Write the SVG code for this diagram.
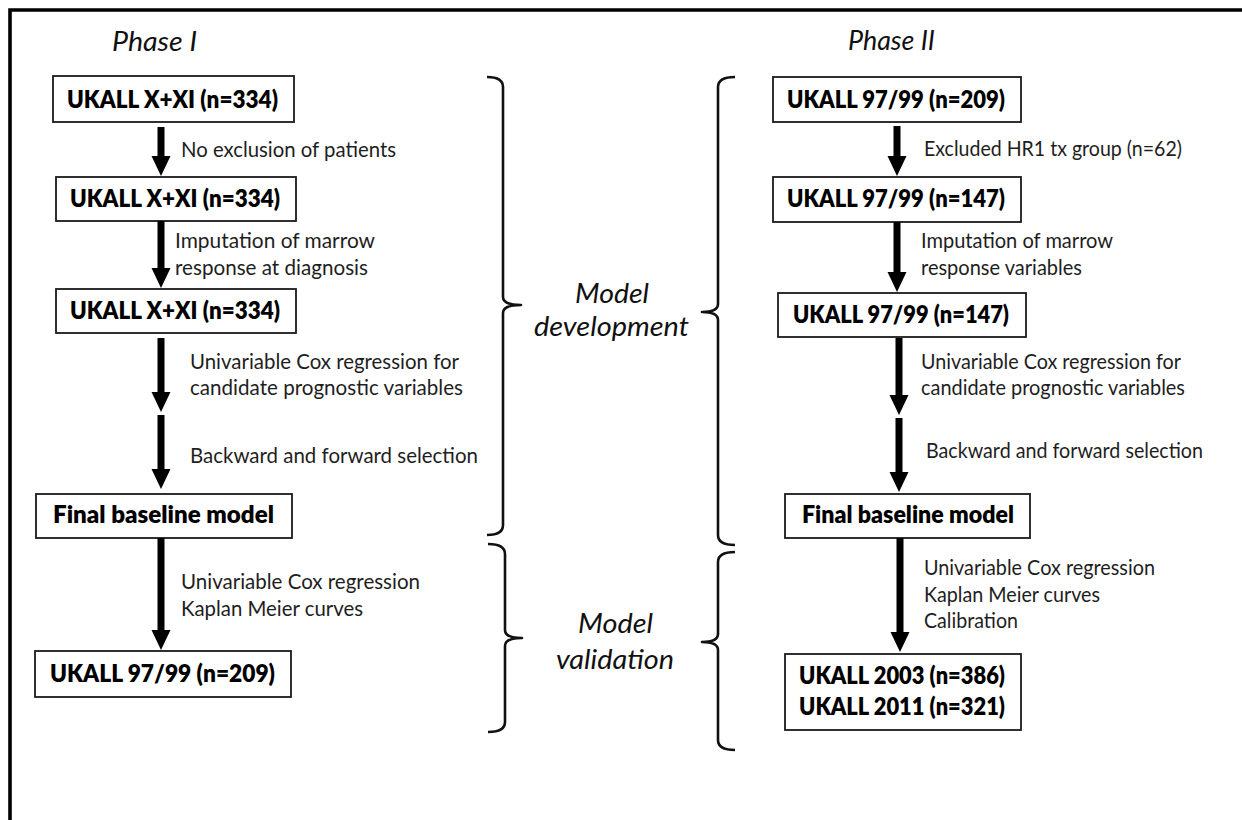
<svg xmlns="http://www.w3.org/2000/svg" width="1242" height="820" viewBox="0 0 1242 820">
  <defs>
    <style>
      .frame { fill: none; stroke: #000; stroke-width: 3.6; }
      .box rect { fill: #fff; stroke: #1a1a1a; stroke-width: 1.8; }
      .box text { font-family: Lato, "Open Sans", sans-serif; font-weight: 800; font-size: 25px; fill: #000; }
      .lbl { font-family: Lato, "Open Sans", sans-serif; font-size: 20.5px; fill: #1e1e1e; }
      .head { font-family: Lato, "Open Sans", sans-serif; font-style: italic; font-size: 27.5px; fill: #111; }
      .arrow { stroke: #000; stroke-width: 7; fill: none; marker-end: url(#ah); }
      .brace { fill: none; stroke: #111; stroke-width: 2.6; stroke-linejoin: round; }
    </style>
    <marker id="ah" markerUnits="userSpaceOnUse" markerWidth="21" markerHeight="20" refX="2" refY="9.5" orient="auto" overflow="visible">
      <path d="M0,0 L20,9.5 L0,19 Z" fill="#000"/>
    </marker>
  </defs>

  <rect width="1242" height="820" fill="#fff"/>
  <!-- outer frame: top and left edges only -->
  <path class="frame" d="M10,822 L10,10 L1244,10"/>

  <!-- column headings -->
  <text class="head" x="112" y="51" textLength="85" lengthAdjust="spacingAndGlyphs">Phase I</text>
  <text class="head" x="848" y="50" textLength="87" lengthAdjust="spacingAndGlyphs">Phase II</text>

  <!-- Phase I nodes -->
  <g id="p1-start" class="box">
    <rect x="53" y="76" width="241" height="46"/>
    <text x="67" y="108" textLength="211" lengthAdjust="spacingAndGlyphs">UKALL X+XI (n=334)</text>
  </g>
  <g id="p1-all" class="box">
    <rect x="56" y="177" width="240" height="44"/>
    <text x="70" y="207" textLength="210" lengthAdjust="spacingAndGlyphs">UKALL X+XI (n=334)</text>
  </g>
  <g id="p1-imputed" class="box">
    <rect x="56" y="289" width="240" height="44"/>
    <text x="70" y="319" textLength="210" lengthAdjust="spacingAndGlyphs">UKALL X+XI (n=334)</text>
  </g>
  <g id="p1-model" class="box">
    <rect x="36" y="494" width="256" height="44"/>
    <text x="53" y="523" textLength="221" lengthAdjust="spacingAndGlyphs">Final baseline model</text>
  </g>
  <g id="p1-validation" class="box">
    <rect x="35" y="651" width="256" height="46"/>
    <text x="50" y="682" textLength="225" lengthAdjust="spacingAndGlyphs">UKALL 97/99 (n=209)</text>
  </g>

  <!-- Phase II nodes -->
  <g id="p2-start" class="box">
    <rect x="773" y="77" width="248" height="45"/>
    <text x="787" y="108" textLength="218" lengthAdjust="spacingAndGlyphs">UKALL 97/99 (n=209)</text>
  </g>
  <g id="p2-excluded" class="box">
    <rect x="773" y="177" width="248" height="45"/>
    <text x="787" y="207" textLength="218" lengthAdjust="spacingAndGlyphs">UKALL 97/99 (n=147)</text>
  </g>
  <g id="p2-imputed" class="box">
    <rect x="778" y="293" width="248" height="44"/>
    <text x="793" y="323" textLength="216" lengthAdjust="spacingAndGlyphs">UKALL 97/99 (n=147)</text>
  </g>
  <g id="p2-model" class="box">
    <rect x="785" y="494" width="245" height="44"/>
    <text x="802" y="523" textLength="212" lengthAdjust="spacingAndGlyphs">Final baseline model</text>
  </g>
  <g id="p2-validation" class="box">
    <rect x="785" y="654" width="236" height="76"/>
    <text x="799" y="684" textLength="206" lengthAdjust="spacingAndGlyphs">UKALL 2003 (n=386)</text>
    <text x="799" y="715" textLength="206" lengthAdjust="spacingAndGlyphs">UKALL 2011 (n=321)</text>
  </g>

  <!-- connectors -->
  <g id="connectors">
    <line class="arrow" x1="161" y1="127" x2="161" y2="158"/>
    <line class="arrow" x1="161" y1="221" x2="161" y2="270"/>
    <line class="arrow" x1="161" y1="338" x2="161" y2="394"/>
    <line class="arrow" x1="161" y1="415" x2="161" y2="471"/>
    <line class="arrow" x1="161" y1="538" x2="161" y2="632"/>

    <line class="arrow" x1="897" y1="126" x2="897" y2="158"/>
    <line class="arrow" x1="897" y1="222" x2="897" y2="274"/>
    <line class="arrow" x1="899" y1="338" x2="899" y2="397"/>
    <line class="arrow" x1="899" y1="418" x2="899" y2="474"/>
    <line class="arrow" x1="900" y1="538" x2="900" y2="634"/>
  </g>

  <!-- connector labels -->
  <g id="labels" class="lbl">
    <text x="181" y="157" textLength="215" lengthAdjust="spacingAndGlyphs">No exclusion of patients</text>
    <text x="175" y="248" textLength="200" lengthAdjust="spacingAndGlyphs">Imputation of marrow</text>
    <text x="175" y="275" textLength="193" lengthAdjust="spacingAndGlyphs">response at diagnosis</text>
    <text x="190" y="369" textLength="269" lengthAdjust="spacingAndGlyphs">Univariable Cox regression for</text>
    <text x="190" y="395" textLength="273" lengthAdjust="spacingAndGlyphs">candidate prognostic variables</text>
    <text x="190" y="463" textLength="288" lengthAdjust="spacingAndGlyphs">Backward and forward selection</text>
    <text x="181" y="589" textLength="239" lengthAdjust="spacingAndGlyphs">Univariable Cox regression</text>
    <text x="181" y="616" textLength="182" lengthAdjust="spacingAndGlyphs">Kaplan Meier curves</text>

    <text x="924" y="156" textLength="258" lengthAdjust="spacingAndGlyphs">Excluded HR1 tx group (n=62)</text>
    <text x="921" y="248" textLength="192" lengthAdjust="spacingAndGlyphs">Imputation of marrow</text>
    <text x="921" y="275" textLength="161" lengthAdjust="spacingAndGlyphs">response variables</text>
    <text x="921" y="369" textLength="260" lengthAdjust="spacingAndGlyphs">Univariable Cox regression for</text>
    <text x="921" y="395" textLength="264" lengthAdjust="spacingAndGlyphs">candidate prognostic variables</text>
    <text x="926" y="458" textLength="277" lengthAdjust="spacingAndGlyphs">Backward and forward selection</text>
    <text x="924" y="575" textLength="231" lengthAdjust="spacingAndGlyphs">Univariable Cox regression</text>
    <text x="924" y="602" textLength="176" lengthAdjust="spacingAndGlyphs">Kaplan Meier curves</text>
    <text x="924" y="628" textLength="94" lengthAdjust="spacingAndGlyphs">Calibration</text>
  </g>

  <!-- stage braces and their captions -->
  <g id="stage-development">
    <path class="brace" d="M487,77 Q503,77 503,87 L503,297 Q503,305 521,305 Q503,305 503,313 L503,525 Q503,535 487,535"/>
    <path class="brace" d="M735,77 Q718,77 718,87 L718,304 Q718,312 702,312 Q718,312 718,320 L718,535 Q718,545 735,545"/>
    <text class="head" x="575" y="303" textLength="74" lengthAdjust="spacingAndGlyphs">Model</text>
    <text class="head" x="534" y="336" textLength="155" lengthAdjust="spacingAndGlyphs">development</text>
  </g>
  <g id="stage-validation">
    <path class="brace" d="M488,544 Q505,544 505,554 L505,630 Q505,638 522,638 Q505,638 505,646 L505,722 Q505,732 488,732"/>
    <path class="brace" d="M735,552 Q718,552 718,562 L718,634 Q718,642 702,642 Q718,642 718,650 L718,740 Q718,750 735,750"/>
    <text class="head" x="578" y="633" textLength="75" lengthAdjust="spacingAndGlyphs">Model</text>
    <text class="head" x="556" y="669" textLength="118" lengthAdjust="spacingAndGlyphs">validation</text>
  </g>
</svg>
